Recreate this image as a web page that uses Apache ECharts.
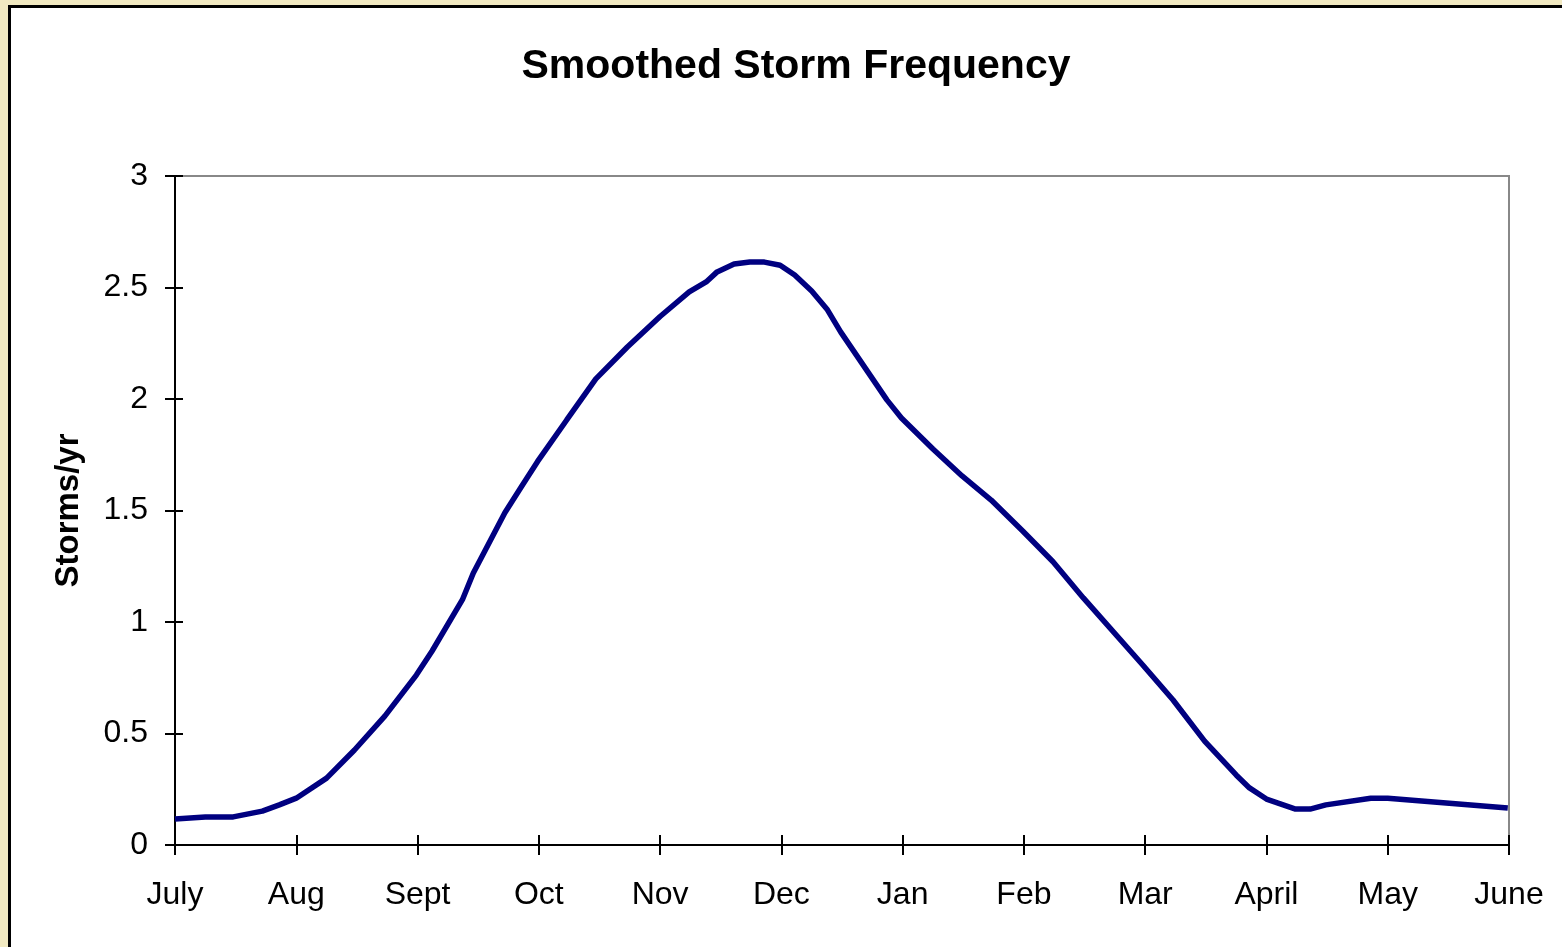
<!DOCTYPE html>
<html>
<head>
<meta charset="utf-8">
<script src="https://cdn.jsdelivr.net/npm/echarts@6/dist/echarts.min.js"></script>
<style>
  html, body { margin: 0; padding: 0; background: #f1e9c1; overflow: hidden; }
  .frame {
    position: absolute; left: 8px; top: 5px; width: 1600px; height: 1000px;
    background: #fff; border-left: 3px solid #000; border-top: 3px solid #000;
  }
  .echarts-box { position: absolute; left: 0; top: 0; width: 1562px; height: 947px; }
</style>
</head>
<body>
<div class="frame"></div>
<div class="echarts-box" id="chart"></div>
<script>
// month tick labels, July .. June
const months = ['July', 'Aug', 'Sept', 'Oct', 'Nov', 'Dec', 'Jan', 'Feb', 'Mar', 'April', 'May', 'June']

// position along the year (months after July 1) and smoothed storm frequency
const monthPos = [
  0.00, 0.25, 0.48, 0.72, 0.86, 1.00, 1.25, 1.48, 1.73, 1.99,
  2.12, 2.37, 2.46, 2.72, 2.86, 2.99, 3.23, 3.47, 3.73, 4.00,
  4.24, 4.38, 4.47, 4.61, 4.74, 4.86, 4.99, 5.11, 5.25, 5.38,
  5.49, 5.87, 5.99, 6.25, 6.49, 6.73, 6.99, 7.24, 7.49, 7.98,
  8.23, 8.49, 8.75, 8.86, 9.00, 9.24, 9.36, 9.49, 9.86, 10.00,
  10.99
]
const stormsPerYear = [
  0.117, 0.126, 0.126, 0.152, 0.18, 0.21, 0.30, 0.426, 0.578, 0.762,
  0.87, 1.10, 1.22, 1.49, 1.61, 1.72, 1.906, 2.09, 2.233, 2.37,
  2.48, 2.525, 2.57, 2.605, 2.614, 2.614, 2.60, 2.556, 2.484, 2.40,
  2.30, 1.996, 1.915, 1.776, 1.655, 1.547, 1.408, 1.27, 1.108, 0.807,
  0.65, 0.466, 0.314, 0.256, 0.206, 0.161, 0.161, 0.18, 0.21, 0.21,
  0.166
]

let seriesData = []
monthPos.forEach((m, i) => {
  seriesData.push([m, stormsPerYear[i]])
})

const chart = echarts.init(document.getElementById('chart'))
const font = 'Liberation Sans, Arial, sans-serif'
const options = {
  animation: false,
  title: {
    text: 'Smoothed Storm Frequency',
    left: 791,
    top: 41,
    textAlign: 'center',
    textStyle: {
      fontFamily: font,
      fontSize: 41,
      fontWeight: 'bold',
      color: '#000'
    }
  },
  grid: {
    left: 175,
    right: 53,
    top: 176,
    bottom: 102,
    show: true,
    backgroundColor: 'transparent',
    borderColor: '#888',
    borderWidth: 2
  },
  xAxis: [
    {
      type: 'value',
      min: 0,
      max: 11,
      interval: 1,
      splitLine: { show: false },
      axisLine: { lineStyle: { color: '#000', width: 2 } },
      axisTick: { length: 10, lineStyle: { color: '#000', width: 2 } },
      axisLabel: {
        margin: 34,
        fontFamily: font,
        fontSize: 32,
        color: '#000',
        formatter: v => months[Math.round(v)]
      }
    },
    {
      type: 'value',
      min: 0,
      max: 11,
      interval: 1,
      position: 'bottom',
      splitLine: { show: false },
      axisLine: { show: false },
      axisTick: { inside: true, length: 10, lineStyle: { color: '#000', width: 2 } },
      axisLabel: { show: false }
    }
  ],
  yAxis: [
    {
      type: 'value',
      min: 0,
      max: 3,
      interval: 0.5,
      name: 'Storms/yr',
      nameLocation: 'middle',
      nameRotate: 90,
      nameGap: 90,
      nameTextStyle: {
        fontFamily: font,
        fontSize: 33,
        fontWeight: 'bold',
        color: '#000'
      },
      splitLine: { show: false },
      axisLine: { show: true, lineStyle: { color: '#000', width: 2 } },
      axisTick: { show: true, length: 10, lineStyle: { color: '#000', width: 2 } },
      axisLabel: {
        margin: 27,
        fontFamily: font,
        fontSize: 32,
        color: '#000'
      }
    },
    {
      type: 'value',
      min: 0,
      max: 3,
      interval: 0.5,
      position: 'left',
      splitLine: { show: false },
      axisLine: { show: false },
      axisTick: { show: true, inside: true, length: 8, lineStyle: { color: '#000', width: 2 } },
      axisLabel: { show: false }
    }
  ],
  series: {
    name: 'Storms/yr',
    type: 'line',
    xAxisIndex: 0,
    yAxisIndex: 0,
    data: seriesData,
    showSymbol: false,
    lineStyle: {
      color: '#000080',
      width: 5.5
    }
  }
}
chart.setOption(options)
</script>
</body>
</html>
